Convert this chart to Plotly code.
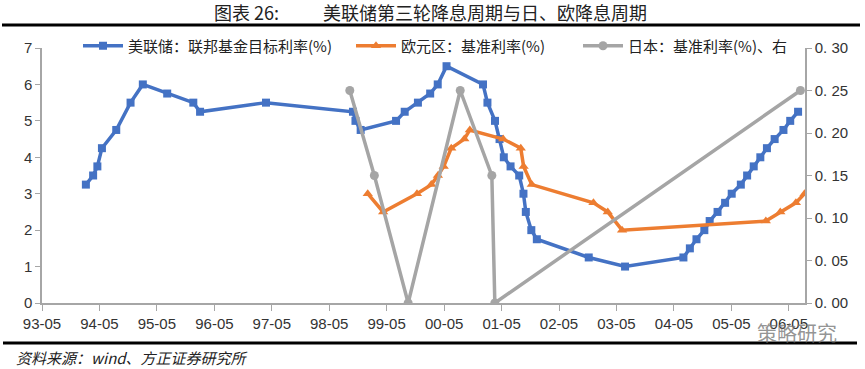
import plotly.graph_objects as go

# Fed funds target rate (%)
fed_dates = ["1994-02-04", "1994-03-22", "1994-04-18", "1994-05-17", "1994-08-16", "1994-11-15",
             "1995-02-01", "1995-07-06", "1995-12-19", "1996-01-31", "1997-03-25",
             "1998-09-29", "1998-10-15", "1998-11-17", "1999-06-30", "1999-08-24", "1999-11-16",
             "2000-02-02", "2000-03-21", "2000-05-16",
             "2001-01-03", "2001-01-31", "2001-03-20", "2001-04-18", "2001-05-15", "2001-06-27",
             "2001-08-21", "2001-09-17", "2001-10-02", "2001-11-06", "2001-12-11",
             "2002-11-06", "2003-06-25", "2004-06-30", "2004-08-10", "2004-09-21", "2004-11-10",
             "2004-12-14", "2005-02-02", "2005-03-22", "2005-05-03", "2005-06-30", "2005-08-09",
             "2005-09-20", "2005-11-01", "2005-12-13", "2006-01-31", "2006-03-28", "2006-05-10",
             "2006-06-29"]
fed_rate = [3.25, 3.5, 3.75, 4.25, 4.75, 5.5,
            6.0, 5.75, 5.5, 5.25, 5.5,
            5.25, 5.0, 4.75, 5.0, 5.25, 5.5,
            5.75, 6.0, 6.5,
            6.0, 5.5, 5.0, 4.5, 4.0, 3.75,
            3.5, 3.0, 2.5, 2.0, 1.75,
            1.25, 1.0, 1.25, 1.5, 1.75, 2.0,
            2.25, 2.5, 2.75, 3.0, 3.25, 3.5,
            3.75, 4.0, 4.25, 4.5, 4.75, 5.0,
            5.25]

# ECB main refinancing rate (%)
ecb_dates = ["1999-01-01", "1999-04-09", "1999-11-10", "2000-02-09", "2000-03-22", "2000-04-28",
             "2000-06-15", "2000-09-06", "2000-10-11", "2001-05-11", "2001-08-31", "2001-09-18",
             "2001-11-09", "2002-12-06", "2003-03-07", "2003-06-06", "2005-12-06", "2006-03-08",
             "2006-06-15", "2006-08-09"]
ecb_rate = [3.0, 2.5, 3.0, 3.25, 3.5, 3.75,
            4.25, 4.5, 4.75, 4.5, 4.25, 3.75,
            3.25, 2.75, 2.5, 2.0, 2.25, 2.5,
            2.75, 3.0]

# Japan policy rate (%), right axis
jp_dates = ["1998-09-09", "1999-02-12", "1999-09-15", "2000-08-11", "2001-02-28", "2001-03-19", "2006-07-14"]
jp_rate = [0.25, 0.15, 0.0, 0.25, 0.15, 0.0, 0.25]

left_ticks = [0, 1, 2, 3, 4, 5, 6, 7]
right_ticks = [0, 0.05, 0.10, 0.15, 0.20, 0.25, 0.30]
right_ticktext = ["0. 00", "0. 05", "0. 10", "0. 15", "0. 20", "0. 25", "0. 30"]

BLUE = "#4472C4"
ORANGE = "#ED7D31"
GRAY = "#A5A5A5"
AXIS = "#A6A6A6"
CJK = "Noto Sans CJK SC"
TICKFONT = dict(family="Liberation Sans, Arial", size=15, color="#333333")

W, H = 865, 369
ML, MR, MT, MB = 42, 60, 48, 66
PW, PH = W - ML - MR, H - MT - MB


def px(x):
    return (x - ML) / PW


def py(y):
    return (H - MB - y) / PH


fig = go.Figure()
fig.add_trace(go.Scatter(x=fed_dates, y=fed_rate, name="美联储：联邦基金目标利率(%)",
                         mode="lines+markers", line=dict(color=BLUE, width=3.5),
                         marker=dict(symbol="square", size=8, color=BLUE), legend="legend"))
fig.add_trace(go.Scatter(x=ecb_dates, y=ecb_rate, name="欧元区：基准利率(%)",
                         mode="lines+markers", line=dict(color=ORANGE, width=3.5),
                         marker=dict(symbol="triangle-up", size=9, color=ORANGE), legend="legend2"))
fig.add_trace(go.Scatter(x=jp_dates, y=jp_rate, name="日本：基准利率(%)、右", yaxis="y2",
                         mode="lines+markers", line=dict(color=GRAY, width=3.5),
                         marker=dict(symbol="circle", size=9, color=GRAY), legend="legend3"))

legend_common = dict(orientation="h", xanchor="left", yanchor="middle", y=py(46),
                     bgcolor="rgba(0,0,0,0)", font=dict(family=CJK, size=15, color="#222222"),
                     itemwidth=40)

fig.update_layout(
    width=W, height=H,
    margin=dict(l=ML, r=MR, t=MT, b=MB),
    paper_bgcolor="white", plot_bgcolor="white",
    showlegend=True,
    legend=dict(x=px(78), **legend_common),
    legend2=dict(x=px(351), **legend_common),
    legend3=dict(x=px(578), **legend_common),
    xaxis=dict(type="date", range=["1993-05-01", "2006-08-12"],
               tick0="1993-05-01", dtick="M12", tickformat="%y-%m",
               showgrid=False, zeroline=False, showline=True, linecolor=AXIS, linewidth=1.5,
               ticks="outside", tickcolor=AXIS, ticklen=6, tickfont=TICKFONT),
    yaxis=dict(range=[0, 7], tickvals=left_ticks, showgrid=False, zeroline=False,
               showline=True, linecolor=AXIS, linewidth=1.5, ticks="outside",
               tickcolor=AXIS, ticklen=5, tickfont=TICKFONT),
    yaxis2=dict(range=[0, 0.30], tickvals=right_ticks, ticktext=right_ticktext,
                overlaying="y", side="right", showgrid=False, zeroline=False,
                showline=True, linecolor=AXIS, linewidth=1.5, ticks="outside",
                tickcolor=AXIS, ticklen=5, tickfont=TICKFONT),
    annotations=[
        dict(text="图表 26:", x=px(212), y=py(12), xref="paper", yref="paper", showarrow=False,
             xanchor="left", yanchor="middle", font=dict(family=CJK, size=18, color="#222222")),
        dict(text="美联储第三轮降息周期与日、欧降息周期", x=px(321), y=py(12), xref="paper",
             yref="paper", showarrow=False, xanchor="left", yanchor="middle",
             font=dict(family=CJK, size=18, color="#222222")),
        dict(text="<i>资料来源：wind、方正证券研究所</i>", x=px(14), y=py(357),
             xref="paper", yref="paper", showarrow=False, xanchor="left", yanchor="middle",
             font=dict(family=CJK, size=15, color="#222222")),
        dict(text="策略研究", x=px(797), y=py(332), xref="paper", yref="paper", showarrow=False,
             xanchor="center", yanchor="middle",
             font=dict(family=CJK, size=20, color="rgba(120,120,120,0.8)")),
    ],
)

fig.add_shape(type="line", xref="paper", yref="paper",
              x0=px(2), x1=px(860), y0=py(25), y1=py(25),
              line=dict(color="black", width=3))
fig.add_shape(type="line", xref="paper", yref="paper",
              x0=px(3), x1=px(857), y0=py(343), y1=py(343),
              line=dict(color="black", width=3))

fig.write_html("out.html", config={"displayModeBar": False},
               post_script="document.body.style.margin='0px';")
